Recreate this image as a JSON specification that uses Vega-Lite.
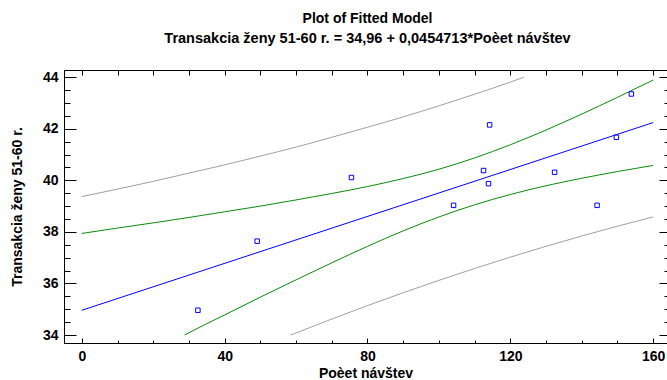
{
  "$schema": "https://vega.github.io/schema/vega-lite/v6.json",
  "width": 603,
  "height": 273,
  "autosize": {"type": "none"},
  "padding": {"left": 64, "top": 70, "right": 0, "bottom": 37},
  "background": "white",
  "title": {
    "text": "Plot of Fitted Model",
    "subtitle": "Transakcia ženy 51-60 r. = 34,96 + 0,0454713*Poèet návštev",
    "font": "Liberation Sans",
    "fontSize": 14,
    "fontWeight": "bold",
    "color": "black",
    "subtitleFont": "Liberation Sans",
    "subtitleFontSize": 14.5,
    "subtitleFontWeight": "bold",
    "subtitleColor": "black",
    "subtitlePadding": 6,
    "anchor": "middle",
    "frame": "group",
    "dx": 2,
    "offset": 24
  },
  "config": {
    "view": {"stroke": null},
    "axis": {
      "domain": true,
      "domainColor": "black",
      "domainWidth": 1,
      "grid": false,
      "tickColor": "black",
      "tickWidth": 1,
      "labelFont": "Liberation Sans",
      "labelFontWeight": "bold",
      "labelFontSize": 14,
      "labelColor": "black",
      "titleFont": "Liberation Sans",
      "titleFontWeight": "bold",
      "titleFontSize": 14,
      "titleColor": "black"
    }
  },
  "datasets": {
    "points": [
      {"x": 32.5, "y": 34.96},
      {"x": 49.1, "y": 37.64},
      {"x": 75.5, "y": 40.11},
      {"x": 104.1, "y": 39.03},
      {"x": 112.5, "y": 40.38},
      {"x": 113.9, "y": 39.87},
      {"x": 114.2, "y": 42.15},
      {"x": 132.4, "y": 40.31},
      {"x": 144.3, "y": 39.03},
      {"x": 149.7, "y": 41.67},
      {"x": 153.9, "y": 43.35}
    ],
    "fit": [
      {"x": 0, "y": 34.96},
      {"x": 160, "y": 42.24}
    ],
    "conf": [
      {"band": "upper", "x": 0, "y": 37.94},
      {"band": "upper", "x": 10, "y": 38.15},
      {"band": "upper", "x": 20, "y": 38.35},
      {"band": "upper", "x": 30, "y": 38.56},
      {"band": "upper", "x": 40, "y": 38.78},
      {"band": "upper", "x": 50, "y": 39.0},
      {"band": "upper", "x": 60, "y": 39.24},
      {"band": "upper", "x": 70, "y": 39.49},
      {"band": "upper", "x": 80, "y": 39.76},
      {"band": "upper", "x": 90, "y": 40.07},
      {"band": "upper", "x": 100, "y": 40.43},
      {"band": "upper", "x": 110, "y": 40.87},
      {"band": "upper", "x": 120, "y": 41.38},
      {"band": "upper", "x": 130, "y": 41.95},
      {"band": "upper", "x": 140, "y": 42.57},
      {"band": "upper", "x": 150, "y": 43.22},
      {"band": "upper", "x": 160, "y": 43.89},
      {"band": "lower", "x": 28.8, "y": 34.0},
      {"band": "lower", "x": 30, "y": 34.09},
      {"band": "lower", "x": 40, "y": 34.78},
      {"band": "lower", "x": 50, "y": 35.47},
      {"band": "lower", "x": 60, "y": 36.14},
      {"band": "lower", "x": 70, "y": 36.8},
      {"band": "lower", "x": 80, "y": 37.44},
      {"band": "lower", "x": 90, "y": 38.04},
      {"band": "lower", "x": 100, "y": 38.58},
      {"band": "lower", "x": 110, "y": 39.05},
      {"band": "lower", "x": 120, "y": 39.45},
      {"band": "lower", "x": 130, "y": 39.79},
      {"band": "lower", "x": 140, "y": 40.08},
      {"band": "lower", "x": 150, "y": 40.34},
      {"band": "lower", "x": 160, "y": 40.58}
    ],
    "pred": [
      {"band": "upper", "x": 0, "y": 39.37},
      {"band": "upper", "x": 10, "y": 39.66},
      {"band": "upper", "x": 20, "y": 39.96},
      {"band": "upper", "x": 30, "y": 40.28},
      {"band": "upper", "x": 40, "y": 40.6},
      {"band": "upper", "x": 50, "y": 40.94},
      {"band": "upper", "x": 60, "y": 41.29},
      {"band": "upper", "x": 70, "y": 41.67},
      {"band": "upper", "x": 80, "y": 42.06},
      {"band": "upper", "x": 90, "y": 42.46},
      {"band": "upper", "x": 100, "y": 42.89},
      {"band": "upper", "x": 110, "y": 43.34},
      {"band": "upper", "x": 120, "y": 43.81},
      {"band": "upper", "x": 123.8, "y": 44.0},
      {"band": "lower", "x": 58.5, "y": 34.0},
      {"band": "lower", "x": 60, "y": 34.08},
      {"band": "lower", "x": 70, "y": 34.62},
      {"band": "lower", "x": 80, "y": 35.14},
      {"band": "lower", "x": 90, "y": 35.64},
      {"band": "lower", "x": 100, "y": 36.12},
      {"band": "lower", "x": 110, "y": 36.58},
      {"band": "lower", "x": 120, "y": 37.02},
      {"band": "lower", "x": 130, "y": 37.44},
      {"band": "lower", "x": 140, "y": 37.84},
      {"band": "lower", "x": 150, "y": 38.22},
      {"band": "lower", "x": 160, "y": 38.58}
    ]
  },
  "resolve": {"axis": {"x": "independent", "y": "independent"}},
  "layer": [
    {
      "data": {"name": "fit"},
      "mark": {"type": "line", "color": "#0000ff", "strokeWidth": 1},
      "encoding": {
        "x": {"field": "x", "type": "quantitative",
          "scale": {"domain": [-5, 163.88], "nice": false, "zero": false},
          "axis": {"orient": "bottom", "values": [0, 40, 80, 120, 160], "tickSize": -5, "labelPadding": 11, "title": "Poèet návštev", "titlePadding": 3}},
        "y": {"field": "y", "type": "quantitative",
          "scale": {"domain": [33.69, 44.28], "nice": false, "zero": false},
          "axis": {"orient": "left", "values": [34, 36, 38, 40, 42, 44], "tickSize": -12, "labelPadding": 18, "title": "Transakcia ženy 51-60 r.", "titlePadding": 18}}
      }
    },
    {
      "data": {"name": "conf"},
      "mark": {"type": "line", "color": "#0a8a0a", "strokeWidth": 1, "interpolate": "monotone"},
      "encoding": {
        "detail": {"field": "band"},
        "x": {"field": "x", "type": "quantitative",
          "scale": {"domain": [-5, 163.88], "nice": false, "zero": false},
          "axis": {"orient": "bottom", "values": [0, 10, 20, 30, 40, 50, 60, 70, 80, 90, 100, 110, 120, 130, 140, 150, 160], "tickSize": -3, "labels": false, "title": null}},
        "y": {"field": "y", "type": "quantitative",
          "scale": {"domain": [33.69, 44.28], "nice": false, "zero": false},
          "axis": {"orient": "left", "values": [34, 34.5, 35, 35.5, 36, 36.5, 37, 37.5, 38, 38.5, 39, 39.5, 40, 40.5, 41, 41.5, 42, 42.5, 43, 43.5, 44], "tickSize": -6, "labels": false, "title": null}}
      }
    },
    {
      "data": {"name": "pred"},
      "mark": {"type": "line", "color": "#a0a0a0", "strokeWidth": 1, "interpolate": "monotone"},
      "encoding": {
        "detail": {"field": "band"},
        "x": {"field": "x", "type": "quantitative",
          "scale": {"domain": [-5, 163.88], "nice": false, "zero": false},
          "axis": {"orient": "top", "values": [0, 10, 20, 30, 40, 50, 60, 70, 80, 90, 100, 110, 120, 130, 140, 150, 160], "tickSize": -5, "labels": false, "title": null}},
        "y": {"field": "y", "type": "quantitative",
          "scale": {"domain": [33.69, 44.28], "nice": false, "zero": false},
          "axis": {"orient": "right", "domain": false, "values": [34, 36, 38, 40, 42, 44], "tickSize": -8, "labels": false, "title": null}}
      }
    },
    {
      "data": {"name": "points"},
      "mark": {"type": "point", "shape": "square", "filled": false, "color": "#0000ff", "size": 20, "strokeWidth": 1, "opacity": 1},
      "encoding": {
        "x": {"field": "x", "type": "quantitative",
          "scale": {"domain": [-5, 163.88], "nice": false, "zero": false},
          "axis": null},
        "y": {"field": "y", "type": "quantitative",
          "scale": {"domain": [33.69, 44.28], "nice": false, "zero": false},
          "axis": {"orient": "right", "domain": false, "values": [34, 34.5, 35, 35.5, 36, 36.5, 37, 37.5, 38, 38.5, 39, 39.5, 40, 40.5, 41, 41.5, 42, 42.5, 43, 43.5, 44], "tickSize": -3, "labels": false, "title": null}}
      }
    }
  ]
}
